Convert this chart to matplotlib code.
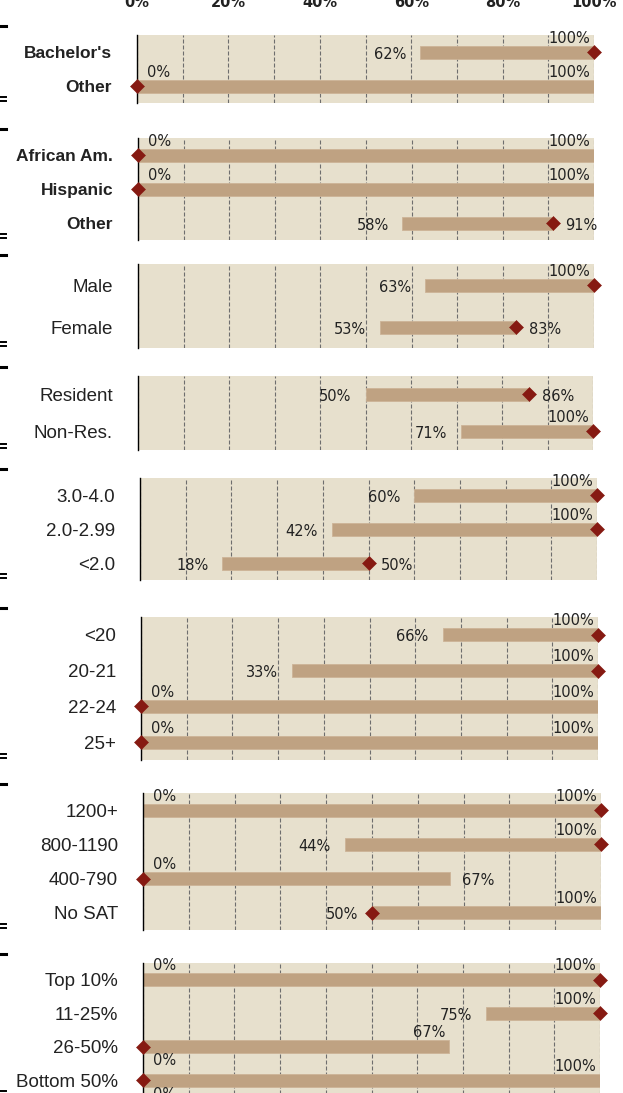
import matplotlib
matplotlib.use('Agg')
import matplotlib.pyplot as plt
from matplotlib.lines import Line2D

# categories per panel
groups = [
    ["Bachelor's", "Other"],
    ["African Am.", "Hispanic", "Other"],
    ["Male", "Female"],
    ["Resident", "Non-Res."],
    ["3.0-4.0", "2.0-2.99", "<2.0"],
    ["<20", "20-21", "22-24", "25+"],
    ["1200+", "800-1190", "400-790", "No SAT"],
    ["Top 10%", "11-25%", "26-50%", "Bottom 50%"],
]
# range low / high (percent) and where the diamond sits
lows = [[62, 0], [0, 0, 58], [63, 53], [50, 71], [60, 42, 18],
        [66, 33, 0, 0], [0, 44, 0, 50], [0, 75, 0, 0]]
highs = [[100, 100], [100, 100, 91], [100, 83], [86, 100], [100, 100, 50],
         [100, 100, 100, 100], [100, 100, 67, 100], [100, 100, 67, 100]]
marks = [[100, 0], [0, 0, 91], [100, 83], [86, 100], [100, 100, 50],
         [100, 100, 0, 0], [100, 100, 0, 50], [100, 100, 0, 0]]
bold_groups = [0, 1]
x_ticks = [0, 20, 40, 60, 80, 100]
x_tick_labels = ["0%", "20%", "40%", "60%", "80%", "100%"]

# label placement overrides (panel, row, which) -> mode
label_modes = {(7, 2, "low"): "below", (7, 3, "low"): "below",
               (7, 2, "high"): "above"}

# panel boxes in pixels: left, right, top, bottom
W, H = 623, 1093
boxes = [(137, 594, 35, 103), (138, 594, 138, 240), (138, 594, 264, 348),
         (138, 593, 376, 450), (140, 597, 478, 580), (141, 598, 617, 760),
         (143, 601, 793, 930), (143, 600, 963, 1097)]

BG = "#E7E0CD"
BAR = "#BFA282"
DIAMOND = "#861A12"
TXT = "#222222"

fig = plt.figure(figsize=(W / 100, H / 100), dpi=100)


def put_label(ax, x, y, s, mode, high):
    if mode == "left":
        ax.annotate(s, (x, y), xytext=(-10, -1.5), textcoords="offset points",
                    ha="right", va="center", fontsize=10.5, color=TXT, annotation_clip=False)
    elif mode == "right":
        ax.annotate(s, (x, y), xytext=(9, -1.5), textcoords="offset points",
                    ha="left", va="center", fontsize=10.5, color=TXT, annotation_clip=False)
    else:
        dy = 10 if mode == "above" else -10
        if high:
            ax.annotate(s, (x, y), xytext=(-2.5, dy), textcoords="offset points",
                        ha="right", va="center", fontsize=10.5, color=TXT, annotation_clip=False)
        else:
            ax.annotate(s, (x, y), xytext=(7, dy), textcoords="offset points",
                        ha="left", va="center", fontsize=10.5, color=TXT, annotation_clip=False)


for g, (l, r, t, b) in enumerate(boxes):
    ax = fig.add_axes([l / W, 1 - b / H, (r - l) / W, (b - t) / H])
    n = len(groups[g])
    rows = list(range(n))
    spacing = (b - t) / n
    ax.set_facecolor(BG)
    ax.set_xlim(0, 100)
    ax.set_ylim(n - 0.5, -0.5)

    widths = [hi - lo for lo, hi in zip(lows[g], highs[g])]
    ax.barh(rows, widths, left=lows[g], height=13 / spacing, color=BAR,
            edgecolor="#CDB497", linewidth=0.6, zorder=2)
    ax.plot(marks[g], rows, linestyle="none", marker="D", markersize=7,
            color=DIAMOND, markeredgewidth=0.4, clip_on=False, zorder=4)

    for i in rows:
        lo, hi = lows[g][i], highs[g][i]
        lo_mode = label_modes.get((g, i, "low"), "left" if lo > 0 else "above")
        hi_mode = label_modes.get((g, i, "high"), "above" if hi == 100 else "right")
        put_label(ax, lo, i, f"{lo}%", lo_mode, False)
        put_label(ax, hi, i, f"{hi}%", hi_mode, True)

    ax.set_xticks(range(0, 101, 10))
    ax.grid(axis="x", color="#6E6E6E", linewidth=0.8, linestyle=(0, (3.6, 1.8)), zorder=1)
    ax.set_axisbelow(True)
    if g == 0:
        ax.xaxis.tick_top()
        ax.set_xticklabels([x_tick_labels[x_ticks.index(v)] if v in x_ticks else ""
                            for v in range(0, 101, 10)],
                           fontweight="bold", fontsize=10.5, color=TXT)
        ax.tick_params(axis="x", length=0, pad=18)
    else:
        ax.tick_params(axis="x", length=0, labelbottom=False)

    ax.set_yticks(rows)
    ax.set_yticklabels(groups[g], family="Liberation Sans",
                       fontsize=12.5 if g in bold_groups else 13.5,
                       fontweight="bold" if g in bold_groups else "normal", color=TXT)
    ax.tick_params(axis="y", length=0, pad=18)
    for side in ["top", "right", "bottom"]:
        ax.spines[side].set_visible(False)
    ax.spines["left"].set_color("black")
    ax.spines["left"].set_linewidth(1.0)

    # small dash marks at the left edge of the figure
    ym = 1 - (t - 9) / H
    fig.add_artist(Line2D([0, 6 / W], [ym, ym], color="black", linewidth=2.2))
    for dy in (-6, -2):
        yb = 1 - (b + dy) / H
        fig.add_artist(Line2D([0, 6 / W], [yb, yb], color="black", linewidth=1.4))

fig.savefig("out.png", dpi=100)
